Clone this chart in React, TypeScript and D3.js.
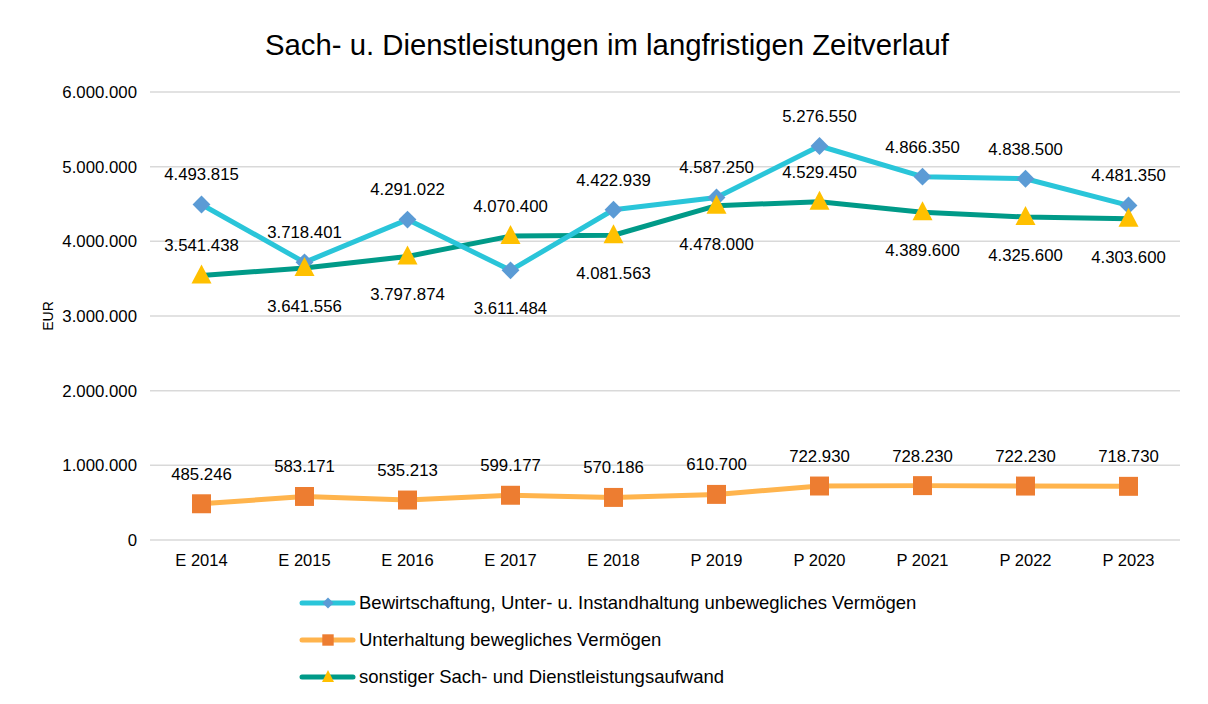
import React, { useEffect, useRef } from 'react';
import * as d3 from 'd3';

const categories = ['E 2014', 'E 2015', 'E 2016', 'E 2017', 'E 2018', 'P 2019', 'P 2020', 'P 2021', 'P 2022', 'P 2023'];
const bewirtschaftung = [4493815, 3718401, 4291022, 3611484, 4422939, 4587250, 5276550, 4866350, 4838500, 4481350];
const unterhaltung = [485246, 583171, 535213, 599177, 570186, 610700, 722930, 728230, 722230, 718730];
const sonstiger = [3541438, 3641556, 3797874, 4070400, 4081563, 4478000, 4529450, 4389600, 4325600, 4303600];
// label placement: true = above the point
const bewirtschaftungAbove = [true, true, true, false, true, true, true, true, true, true];
const sonstigerAbove = [true, false, false, true, false, false, true, false, false, false];
const yTicks = [0, 1000000, 2000000, 3000000, 4000000, 5000000, 6000000];
const legendNames = [
  'Bewirtschaftung, Unter- u. Instandhaltung unbewegliches Vermögen',
  'Unterhaltung bewegliches Vermögen',
  'sonstiger Sach- und Dienstleistungsaufwand',
];

const fmt = (v: number) => d3.format(',')(v).replace(/,/g, '.');

export default function App() {
  const ref = useRef<SVGSVGElement>(null);

  useEffect(() => {
    const width = 1208;
    const height = 704;
    const svg = d3.select(ref.current);
    svg.selectAll('*').remove();
    const font = '"Liberation Sans", Arial, sans-serif';

    svg.append('rect')
      .attr('x', 5.5).attr('y', 5.5)
      .attr('width', width + 20).attr('height', height + 20)
      .attr('fill', '#fff').attr('stroke', '#d9d9d9').attr('stroke-width', 1.5);

    svg.append('text')
      .attr('x', 607).attr('y', 55)
      .attr('text-anchor', 'middle')
      .style('font-family', font).style('font-size', '29.3px').style('fill', '#000')
      .text('Sach- u. Dienstleistungen im langfristigen Zeitverlauf');

    const x = d3.scalePoint<string>().domain(categories).range([150, 1180]).padding(0.5);
    const y = d3.scaleLinear().domain([0, 6000000]).range([540, 92]);

    const grid = svg.append('g');
    grid.selectAll('line').data(yTicks).enter().append('line')
      .attr('x1', 150).attr('x2', 1180)
      .attr('y1', (d) => y(d)).attr('y2', (d) => y(d))
      .attr('stroke', '#d9d9d9').attr('stroke-width', 1.5);

    svg.append('g').selectAll('text').data(yTicks).enter().append('text')
      .attr('x', 137).attr('y', (d) => y(d)).attr('dy', '0.35em')
      .attr('text-anchor', 'end')
      .style('font-family', font).style('font-size', '16.8px').style('fill', '#000')
      .text((d) => fmt(d));

    svg.append('g').selectAll('text').data(categories).enter().append('text')
      .attr('x', (d) => x(d)!).attr('y', 560).attr('dy', '0.35em')
      .attr('text-anchor', 'middle')
      .style('font-family', font).style('font-size', '16.5px').style('fill', '#000')
      .text((d) => d);

    svg.append('text')
      .attr('transform', 'translate(53,316) rotate(-90)')
      .attr('text-anchor', 'middle')
      .style('font-family', font).style('font-size', '14px').style('fill', '#000')
      .text('EUR');

    const line = d3.line<number>().x((d, i) => x(categories[i])!).y((d) => y(d));

    const drawLine = (data: number[], color: string) => {
      svg.append('path')
        .datum(data)
        .attr('d', line)
        .attr('fill', 'none')
        .attr('stroke', color)
        .attr('stroke-width', 5)
        .attr('stroke-linejoin', 'round')
        .attr('stroke-linecap', 'round');
    };

    drawLine(unterhaltung, '#ffb44d');
    drawLine(sonstiger, '#009a88');
    drawLine(bewirtschaftung, '#2ac5d9');

    const diamond = d3.symbol().type(d3.symbolSquare).size(160);
    const square = d3.symbol().type(d3.symbolSquare).size(360);
    const triangle = (hw: number, top: number, bottom: number) =>
      `M0,${-top}L${hw},${bottom}L${-hw},${bottom}Z`;

    svg.append('g').selectAll('path').data(unterhaltung).enter().append('path')
      .attr('d', square)
      .attr('transform', (d, i) => `translate(${x(categories[i])},${y(d)})`)
      .attr('fill', '#ed7d31');

    svg.append('g').selectAll('path').data(bewirtschaftung).enter().append('path')
      .attr('d', diamond)
      .attr('transform', (d, i) => `translate(${x(categories[i])},${y(d)}) rotate(45)`)
      .attr('fill', '#5b9bd5');

    svg.append('g').selectAll('path').data(sonstiger).enter().append('path')
      .attr('d', triangle(10, 11, 8))
      .attr('transform', (d, i) => `translate(${x(categories[i])},${y(d)})`)
      .attr('fill', '#ffc000');

    const labels = (data: number[], above: boolean[]) => {
      svg.append('g').selectAll('text').data(data).enter().append('text')
        .attr('x', (d, i) => x(categories[i])!)
        .attr('y', (d, i) => y(d) + (above[i] ? -30 : 38))
        .attr('dy', '0.35em')
        .attr('text-anchor', 'middle')
        .style('font-family', font).style('font-size', '16.8px').style('fill', '#000')
        .text((d) => fmt(d));
    };
    labels(bewirtschaftung, bewirtschaftungAbove);
    labels(sonstiger, sonstigerAbove);
    labels(unterhaltung, unterhaltung.map(() => true));

    const legend = [
      { name: legendNames[0], line: '#2ac5d9', marker: d3.symbol().type(d3.symbolSquare).size(60)(), fill: '#5b9bd5', rot: 45 },
      { name: legendNames[1], line: '#ffb44d', marker: d3.symbol().type(d3.symbolSquare).size(130)(), fill: '#ed7d31', rot: 0 },
      { name: legendNames[2], line: '#009a88', marker: triangle(6, 7, 5), fill: '#ffc000', rot: 0 },
    ];
    const lg = svg.append('g').selectAll('g').data(legend).enter().append('g')
      .attr('transform', (d, i) => `translate(0,${603 + i * 37})`);
    lg.append('line')
      .attr('x1', 302).attr('x2', 353).attr('y1', 0).attr('y2', 0)
      .attr('stroke', (d) => d.line).attr('stroke-width', 5).attr('stroke-linecap', 'round');
    lg.append('path')
      .attr('d', (d) => d.marker)
      .attr('transform', (d) => `translate(328,0) rotate(${d.rot})`)
      .attr('fill', (d) => d.fill);
    lg.append('text')
      .attr('x', 359).attr('y', 0).attr('dy', '0.35em')
      .style('font-family', font).style('font-size', '18.5px').style('fill', '#000')
      .text((d) => d.name);
  }, []);

  return <svg ref={ref} width={1208} height={704} style={{ display: 'block', margin: -8 }} />;
}
